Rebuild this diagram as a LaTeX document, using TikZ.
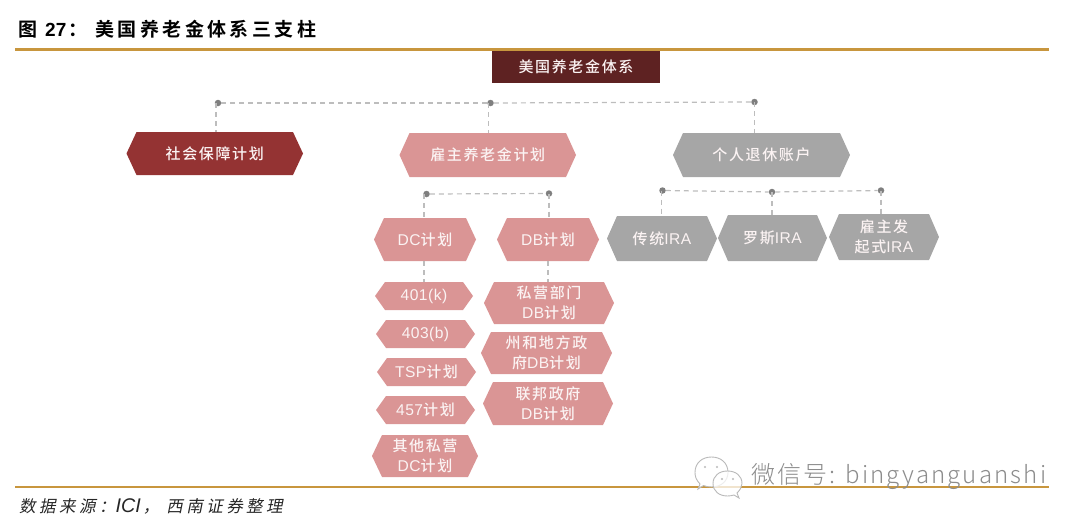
\documentclass[tikz,border=0pt]{standalone}
\usepackage{fontspec}
\setmainfont{Noto Sans CJK SC}
\newfontfamily\nodefont[LetterSpace=11]{Noto Sans CJK SC Medium}
\newfontfamily\lat[LetterSpace=3,Scale=1.04]{Liberation Sans}
\newfontfamily\titlefont[LetterSpace=18,BoldFont={Noto Sans CJK SC Bold}]{Noto Sans CJK SC}
\newfontfamily\titlelat[BoldFont={Liberation Sans Bold}]{Liberation Sans}
\newfontfamily\footfont[LetterSpace=21,FakeSlant=0.2]{Noto Sans CJK SC}
\newfontfamily\footlat[Scale=1.2,ItalicFont={Liberation Sans Italic}]{Liberation Sans}
\newfontfamily\markfont[LetterSpace=9]{Noto Sans CJK SC Light}
\definecolor{rulegold}{HTML}{C8963E}
\definecolor{darkwine}{HTML}{5E2222}
\definecolor{wine}{HTML}{943333}
\definecolor{rose}{HTML}{DA9595}
\definecolor{midgrey}{HTML}{A6A6A6}
\definecolor{dotgrey}{HTML}{7F7F7F}
\definecolor{linkgrey}{HTML}{BDBDBD}
\definecolor{softwhite}{HTML}{FBF3F3}
\tikzset{
  x=1pt,y=-1pt,
  hexbox/.style={rectangle,inner sep=0pt,outer sep=0pt,align=center,text=softwhite,
    font=\nodefont\fontsize{15}{20}\selectfont,
    path picture={\fill[#1] ([xshift=10pt]path picture bounding box.north west)
      -- ([xshift=-10pt]path picture bounding box.north east)
      -- (path picture bounding box.east)
      -- ([xshift=-10pt]path picture bounding box.south east)
      -- ([xshift=10pt]path picture bounding box.south west)
      -- (path picture bounding box.west) -- cycle;}},
  winehex/.style={hexbox=wine},
  rosehex/.style={hexbox=rose},
  greyhex/.style={hexbox=midgrey},
  headbox/.style={rectangle,fill=darkwine,text=softwhite,inner sep=0pt,font=\nodefont\fontsize{15}{20}\selectfont},
  jointdot/.style={circle,fill=dotgrey,inner sep=0pt,minimum size=6.5pt},
  dashlink/.style={draw=linkgrey,line width=1.2pt,dash pattern=on 5pt off 4pt},
  goldrule/.style={draw=rulegold,line width=2.6pt},
  bubble/.style={draw=gray!55,fill=white,fill opacity=0.75,line width=0.9pt},
  bubbleeye/.style={circle,fill=gray!55,inner sep=0pt,minimum size=2.4pt}
}
\newcommand{\hexat}[7]{% style,name,x1,y1,x2,y2,text
  \pgfmathsetmacro{\hw}{#5-#3}\pgfmathsetmacro{\hh}{#6-#4}
  \pgfmathsetmacro{\hcx}{(#3+#5)/2}\pgfmathsetmacro{\hcy}{(#4+#6)/2}
  \node[#1,minimum width=\hw pt,minimum height=\hh pt] (#2) at (\hcx,\hcy) {#7};}
\begin{document}
\begin{tikzpicture}
\useasboundingbox (0,0) rectangle (1080,530);
% title and rules
\node[anchor=west,inner sep=0pt,text=black,font=\titlefont\bfseries\fontsize{19}{22}\selectfont] (title) at (18,29) {图\hspace{8pt}{\titlelat\bfseries 27}\hspace{2pt}：\hspace{8pt}美国养老金体系三支柱};
\coordinate (topl) at (15,49.5); \coordinate (topr) at (1049,49.5);
\draw[goldrule] (topl) -- (topr);
\coordinate (botl) at (15,487); \coordinate (botr) at (1049,487);
\draw[goldrule] (botl) -- (botr);
\node[anchor=west,inner sep=0pt,text=black!85,font=\footfont\fontsize{16.5}{20}\selectfont] (source) at (19,506) {数据来源：{\footlat\itshape ICI}\hspace{2pt}，\hspace{7pt}西南证券整理};
% head
\node[headbox,minimum width=168pt,minimum height=32pt] (root) at (576,67) {美国养老金体系};
% level 1
\hexat{winehex}{social}{126.5}{132}{303}{175}{社会保障计划}
\hexat{rosehex}{employer}{399.5}{133}{576}{177}{雇主养老金计划}
\hexat{greyhex}{personal}{673}{133}{850}{177}{个人退休账户}
% DC / DB
\hexat{rosehex}{dc}{374}{218}{476}{261}{{\lat DC}计划}
\hexat{rosehex}{db}{497}{218}{599}{261}{{\lat DB}计划}
\hexat{rosehex}{k401}{375}{282}{473}{310}{{\lat 401(k)}}
\hexat{rosehex}{b403}{376}{320}{475}{348}{{\lat 403(b)}}
\hexat{rosehex}{tsp}{377}{358}{476}{386}{{\lat TSP}计划}
\hexat{rosehex}{p457}{376}{396}{475}{424}{{\lat 457}计划}
\hexat{rosehex}{other}{372}{435}{478}{477}{其他私营\\{\lat DC}计划}
\hexat{rosehex}{priv}{484}{282}{614}{324}{私营部门\\{\lat DB}计划}
\hexat{rosehex}{state}{481}{332}{612}{374}{州和地方政\\府{\lat DB}计划}
\hexat{rosehex}{fed}{483}{382}{613}{425}{联邦政府\\{\lat DB}计划}
% IRA
\hexat{greyhex}{trad}{607}{216}{717}{261}{传统{\lat IRA}}
\hexat{greyhex}{roth}{718}{215}{827}{261}{罗斯{\lat IRA}}
\hexat{greyhex}{spon}{829}{214}{939}{260}{雇主发\\起式{\lat IRA}}
% joints
\node[jointdot] (j1) at (218,103) {};
\node[jointdot] (j2) at (490.5,103) {};
\node[jointdot] (j3) at (754.5,102) {};
\node[jointdot] (j4) at (426.5,194) {};
\node[jointdot] (j5) at (549,193.5) {};
\node[jointdot] (j6) at (662.5,190.5) {};
\node[jointdot] (j7) at (772,192) {};
\node[jointdot] (j8) at (881,190.5) {};
% connectors
\draw[dashlink] (j1) -- (j2);
\draw[dashlink] (j2) -- (j3);
\draw[dashlink] (j4) -- (j5);
\draw[dashlink] (j6) -- (j7);
\draw[dashlink] (j7) -- (j8);
\draw[dashlink] ([xshift=-2pt]j1.center) -- ([xshift=-2pt]j1.center |- social.north);
\draw[dashlink] ([xshift=-2pt]j2.center) -- ([xshift=-2pt]j2.center |- employer.north);
\draw[dashlink] (j3.center) -- (j3.center |- personal.north);
\draw[dashlink] ([xshift=-2.5pt]j4.center) -- ([xshift=-2.5pt]j4.center |- dc.north);
\draw[dashlink] (j5.center) -- (j5.center |- db.north);
\draw[dashlink] ([xshift=-1pt]j6.center) -- ([xshift=-1pt]j6.center |- trad.north);
\draw[dashlink] (j7.center) -- (j7.center |- roth.north);
\draw[dashlink] (j8.center) -- (j8.center |- spon.north);
\draw[dashlink] ([xshift=-2.5pt]j4.center |- dc.south) -- ([xshift=-2.5pt]j4.center |- k401.north);
\draw[dashlink] ([xshift=-1pt]j5.center |- db.south) -- ([xshift=-1pt]j5.center |- priv.north);
% watermark
\draw[bubble] (700,484) .. controls (696,480) and (695,476) .. (695,472.5)
  .. controls (695,463) and (702,457) .. (711.5,457)
  .. controls (721,457) and (728,463) .. (728,472.5)
  .. controls (728,481) and (721,487) .. (711.5,487)
  .. controls (708,487) and (706,486.5) .. (703.5,485.5) -- (698,489) -- cycle;
\node[bubbleeye] (eye1) at (705,467) {};
\node[bubbleeye] (eye2) at (717,467) {};
\draw[bubble] (737,493) .. controls (740,490) and (742,487) .. (742,483.5)
  .. controls (742,476) and (736,471) .. (727.5,471)
  .. controls (719,471) and (713,476) .. (713,483.5)
  .. controls (713,491) and (719,496) .. (727.5,496)
  .. controls (730,496) and (732,495.5) .. (734,495) -- (739,498) -- cycle;
\node[bubbleeye] (eye3) at (722,479) {};
\node[bubbleeye] (eye4) at (733,479) {};
\node[anchor=west,inner sep=0pt,text=black!45,font=\markfont\fontsize{24}{28}\selectfont] (mark) at (751,477) {微信号: bingyanguanshi};
\end{tikzpicture}
\end{document}
